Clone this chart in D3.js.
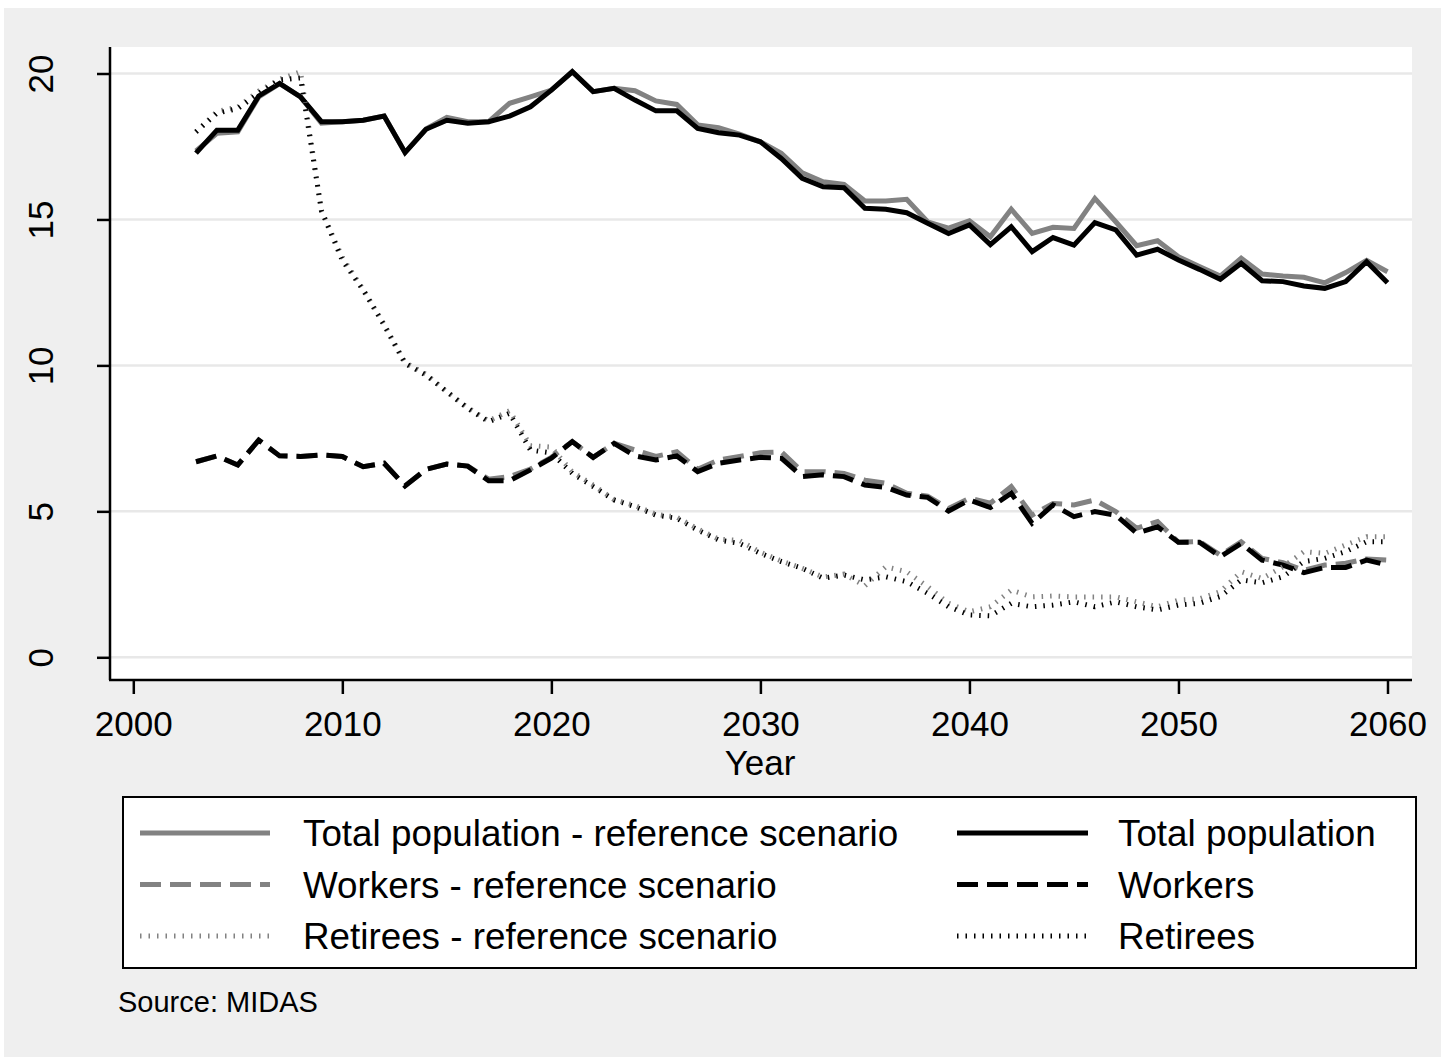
<!DOCTYPE html>
<html>
<head>
<meta charset="utf-8">
<script src="https://cdn.jsdelivr.net/npm/d3@7"></script>
<style>
  body { margin: 0; background: #ffffff; }
  svg text { font-family: "Liberation Sans", Arial, sans-serif; fill: #000; }
</style>
</head>
<body>
<div id="chart"></div>
<script>
const width = 1441;
const height = 1057;

const years = [2003, 2004, 2005, 2006, 2007, 2008, 2009, 2010, 2011, 2012,
  2013, 2014, 2015, 2016, 2017, 2018, 2019, 2020, 2021, 2022,
  2023, 2024, 2025, 2026, 2027, 2028, 2029, 2030, 2031, 2032,
  2033, 2034, 2035, 2036, 2037, 2038, 2039, 2040, 2041, 2042,
  2043, 2044, 2045, 2046, 2047, 2048, 2049, 2050, 2051, 2052,
  2053, 2054, 2055, 2056, 2057, 2058, 2059, 2060];

const totalRef = [17.35, 17.95, 18.0, 19.2, 19.65, 19.2, 18.3, 18.35, 18.4, 18.54,
  17.29, 18.1, 18.5, 18.35, 18.35, 18.98, 19.2, 19.43, 20.06, 19.38,
  19.49, 19.41, 19.06, 18.94, 18.24, 18.14, 17.92, 17.66, 17.27, 16.6,
  16.29, 16.2, 15.63, 15.63, 15.69, 14.92, 14.7, 14.95, 14.41, 15.35,
  14.52, 14.73, 14.69, 15.72, 14.92, 14.1, 14.27, 13.72, 13.39, 13.06,
  13.67, 13.13, 13.06, 13.02, 12.83, 13.18, 13.6, 13.21];

const total = [17.27, 18.06, 18.06, 19.23, 19.66, 19.2, 18.35, 18.35, 18.4, 18.54,
  17.29, 18.09, 18.4, 18.3, 18.35, 18.54, 18.86, 19.43, 20.06, 19.38,
  19.49, 19.09, 18.72, 18.72, 18.12, 17.97, 17.89, 17.66, 17.09, 16.41,
  16.12, 16.09, 15.38, 15.35, 15.23, 14.87, 14.52, 14.81, 14.14, 14.75,
  13.9, 14.38, 14.12, 14.89, 14.64, 13.78, 13.98, 13.61, 13.29, 12.95,
  13.5, 12.9, 12.87, 12.72, 12.64, 12.87, 13.55, 12.83];

const workersRef = [6.7, 6.9, 6.59, 7.44, 6.9, 6.88, 6.93, 6.88, 6.53, 6.65,
  5.87, 6.44, 6.62, 6.55, 6.1, 6.19, 6.45, 6.85, 7.39, 6.85,
  7.33, 7.1, 6.88, 7.04, 6.44, 6.76, 6.88, 7.01, 7.04, 6.36,
  6.36, 6.3, 6.07, 5.96, 5.62, 5.52, 5.1, 5.45, 5.28, 5.85,
  4.87, 5.27, 5.22, 5.39, 4.99, 4.42, 4.65, 3.94, 3.97, 3.5,
  3.96, 3.39, 3.24, 2.98, 3.16, 3.22, 3.37, 3.33];

const workers = [6.7, 6.9, 6.59, 7.44, 6.9, 6.88, 6.93, 6.88, 6.53, 6.65,
  5.87, 6.44, 6.62, 6.55, 6.05, 6.05, 6.42, 6.82, 7.39, 6.85,
  7.33, 6.9, 6.76, 6.9, 6.36, 6.65, 6.76, 6.85, 6.82, 6.19,
  6.25, 6.19, 5.9, 5.82, 5.56, 5.48, 5.01, 5.39, 5.13, 5.62,
  4.59, 5.22, 4.82, 4.99, 4.87, 4.25, 4.47, 3.94, 3.94, 3.45,
  3.9, 3.33, 3.16, 2.9, 3.08, 3.08, 3.33, 3.16];

const retireesRef = [18.0, 18.7, 18.85, 19.4, 19.8, 20.06, 15.3, 13.7, 12.6, 11.4,
  10.1, 9.7, 9.1, 8.55, 8.1, 8.45, 7.25, 7.2, 6.35, 5.9,
  5.4, 5.2, 4.9, 4.8, 4.4, 4.05, 4.0, 3.6, 3.3, 3.05,
  2.75, 2.85, 2.45, 3.1, 2.93, 2.42, 1.85, 1.56, 1.73, 2.3,
  2.07, 2.1, 2.07, 2.07, 2.07, 1.9, 1.73, 1.96, 2.0, 2.25,
  2.93, 2.7, 3.1, 3.62, 3.56, 3.85, 4.13, 4.13];

const retirees = [18.0, 18.64, 18.8, 19.32, 19.78, 19.85, 15.3, 13.6, 12.58, 11.38,
  10.07, 9.67, 9.1, 8.53, 8.07, 8.36, 7.1, 7.0, 6.3, 5.85,
  5.39, 5.16, 4.87, 4.76, 4.36, 4.02, 3.9, 3.56, 3.28, 3.05,
  2.71, 2.82, 2.65, 2.76, 2.59, 2.19, 1.73, 1.45, 1.42, 1.85,
  1.73, 1.79, 1.9, 1.73, 1.9, 1.73, 1.62, 1.79, 1.85, 2.08,
  2.65, 2.55, 2.76, 3.28, 3.39, 3.62, 3.96, 3.96];

const xTicks = [2000, 2010, 2020, 2030, 2040, 2050, 2060];
const yTicks = [0, 5, 10, 15, 20];

const seriesNames = [
  "Total population - reference scenario", "Total population",
  "Workers - reference scenario", "Workers",
  "Retirees - reference scenario", "Retirees"
];

const gray = "#828282";
const styles = [
  { color: gray, width: 5, dash: null },
  { color: "#000", width: 5, dash: null },
  { color: gray, width: 5, dash: "21 9" },
  { color: "#000", width: 5, dash: "21 9" },
  { color: gray, width: 5, dash: "1.5 7" },
  { color: "#000", width: 5, dash: "1.5 7" }
];

const series = [totalRef, total, workersRef, workers, retireesRef, retirees].map((vals, i) => ({
  name: seriesNames[i],
  style: styles[i],
  values: years.map((y, j) => ({ year: y, value: vals[j] }))
}));

const plot = { left: 110, right: 1412, top: 47, bottom: 680 };

const x = d3.scaleLinear().domain([2000, 2060]).range([133.3, 1387.5]);
const y = d3.scaleLinear().domain([0, 20]).range([657.3, 73.5]);

const svg = d3.select("#chart")
  .append("svg")
  .attr("width", width)
  .attr("height", height);

// graph region
svg.append("rect")
  .attr("x", 4).attr("y", 8)
  .attr("width", width - 4).attr("height", height - 8)
  .attr("fill", "#efefef");

// plot region
svg.append("rect")
  .attr("x", plot.left).attr("y", plot.top)
  .attr("width", plot.right - plot.left).attr("height", plot.bottom - plot.top)
  .attr("fill", "#fff");

// grid
svg.append("g")
  .selectAll("line")
  .data(yTicks)
  .join("line")
  .attr("x1", plot.left).attr("x2", plot.right)
  .attr("y1", d => y(d)).attr("y2", d => y(d))
  .attr("stroke", "#e8e8e8")
  .attr("stroke-width", 2.5);

// lines
const line = d3.line()
  .x(d => x(d.year))
  .y(d => y(d.value));

svg.append("g")
  .selectAll("path")
  .data(series)
  .join("path")
  .attr("d", d => line(d.values))
  .attr("fill", "none")
  .attr("stroke", d => d.style.color)
  .attr("stroke-width", d => d.style.width)
  .attr("stroke-dasharray", d => d.style.dash)
  .attr("stroke-linejoin", "miter");

// y axis
const yAxis = svg.append("g")
  .attr("transform", `translate(${plot.left},0)`)
  .call(d3.axisLeft(y).tickValues(yTicks).tickSize(13).tickPadding(0).tickFormat(d3.format("d")));
yAxis.select(".domain").attr("d", `M0,${plot.top}V${plot.bottom}`).attr("stroke-width", 2.5);
yAxis.selectAll(".tick line").attr("stroke-width", 2.5);
yAxis.selectAll(".tick text")
  .attr("font-size", 35)
  .attr("text-anchor", "middle")
  .attr("x", 0).attr("dy", null)
  .attr("transform", "translate(-57,0) rotate(-90)");

// x axis
const xAxis = svg.append("g")
  .attr("transform", `translate(0,${plot.bottom})`)
  .call(d3.axisBottom(x).tickValues(xTicks).tickSize(14).tickPadding(0).tickFormat(d3.format("d")));
xAxis.select(".domain").attr("d", `M${plot.left - 1},0H${plot.right}`).attr("stroke-width", 2.5);
xAxis.selectAll(".tick line").attr("stroke-width", 2.5);
xAxis.selectAll(".tick text")
  .attr("font-size", 35)
  .attr("y", 56).attr("dy", null);

svg.append("text")
  .attr("x", 760).attr("y", 775)
  .attr("text-anchor", "middle")
  .attr("font-size", 35)
  .text("Year");

// legend
const legend = svg.append("g");
legend.append("rect")
  .attr("x", 123).attr("y", 797)
  .attr("width", 1293).attr("height", 171)
  .attr("fill", "#fff")
  .attr("stroke", "#000")
  .attr("stroke-width", 2);

const legendItems = legend.selectAll("g.item")
  .data(series)
  .join("g")
  .attr("class", "item")
  .attr("transform", (d, i) => {
    const col = i % 2, row = Math.floor(i / 2);
    return `translate(${col === 0 ? 140 : 957},${833 + row * 51.5})`;
  });

legendItems.append("line")
  .attr("x1", 0).attr("x2", (d, i) => i % 2 === 0 ? 130 : 131)
  .attr("y1", 0).attr("y2", 0)
  .attr("stroke", d => d.style.color)
  .attr("stroke-width", d => d.style.width)
  .attr("stroke-dasharray", d => d.style.dash);

legendItems.append("text")
  .attr("x", (d, i) => i % 2 === 0 ? 163 : 161)
  .attr("y", 13)
  .attr("font-size", 36.8)
  .text(d => d.name);

svg.append("text")
  .attr("x", 118).attr("y", 1012)
  .attr("font-size", 29)
  .text("Source: MIDAS");
</script>
</body>
</html>
